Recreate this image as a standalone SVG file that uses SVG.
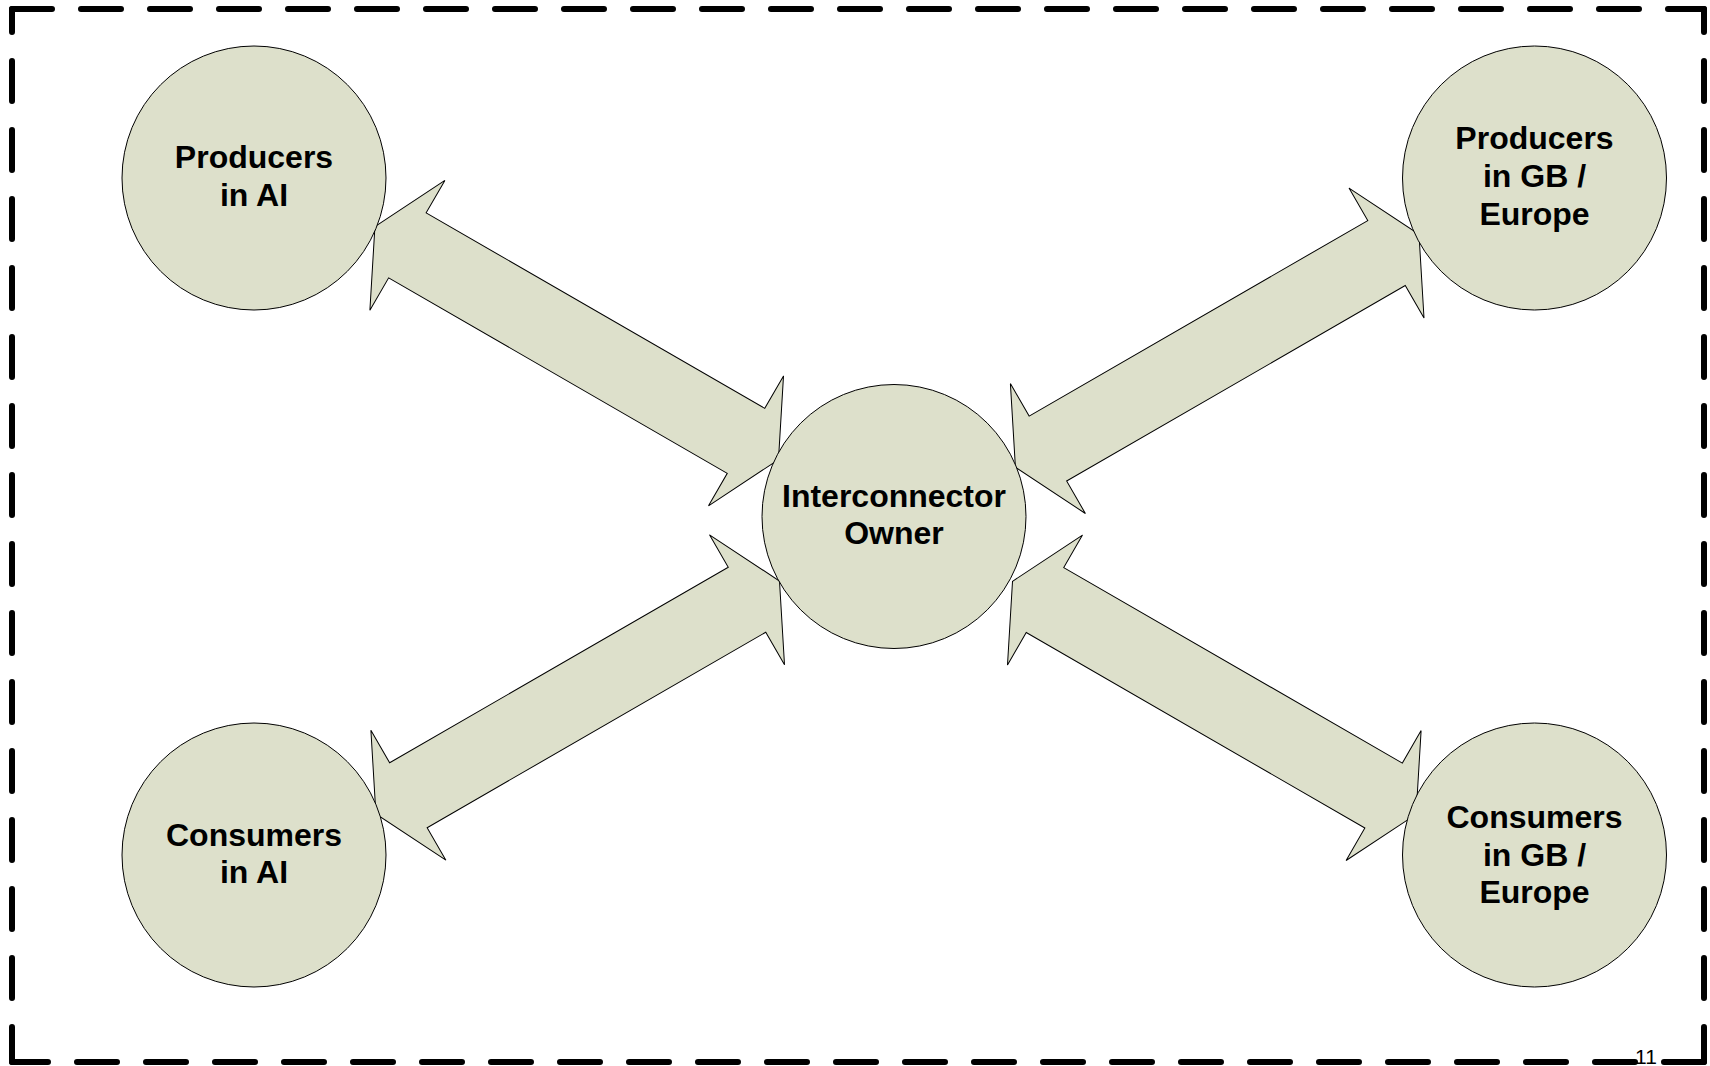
<svg xmlns="http://www.w3.org/2000/svg" xmlns:xlink="http://www.w3.org/1999/xlink" width="1710" height="1066" viewBox="0 0 1710 1066">
<style>
.node { fill: #dde0cb; stroke: #000; stroke-width: 1; }
.arrow { fill: #dde0cb; stroke: #000; stroke-width: 1; stroke-linejoin: miter; }
.lbl { font-family: "Liberation Sans", Arial, sans-serif; font-weight: bold; font-size: 32px; text-anchor: middle; fill: #000; }
.border { fill: none; stroke: #000; stroke-width: 6; stroke-linecap: round; stroke-dasharray: 40 29; }
.pg { font-family: "Liberation Sans", Arial, sans-serif; font-size: 21px; text-anchor: middle; fill: #000; }
</style>
<defs>
<polygon id="dblarrow" points="-233,0 -195.5,-75 -195.5,-37.5 195.5,-37.5 195.5,-75 233,0 195.5,75 195.5,37.5 -195.5,37.5 -195.5,75"/>
</defs>
<rect x="0" y="0" width="1710" height="1066" fill="#fff"/>
<g id="frame">
<line class="border" x1="12" y1="9" x2="1704" y2="9"/>
<line class="border" x1="12" y1="9" x2="12" y2="1062" stroke-dashoffset="17"/>
<line class="border" x1="1704" y1="9" x2="1704" y2="1062" stroke-dashoffset="17"/>
<line class="border" x1="1704" y1="1062" x2="12" y2="1062"/>
</g>
<g id="connectors">
<use xlink:href="#dblarrow" href="#dblarrow" class="arrow" transform="translate(576.7,343.1) rotate(30)"/>
<use xlink:href="#dblarrow" href="#dblarrow" class="arrow" transform="translate(1217.2,350.8) rotate(-30)"/>
<use xlink:href="#dblarrow" href="#dblarrow" class="arrow" transform="translate(577.7,697.5) rotate(-30)"/>
<use xlink:href="#dblarrow" href="#dblarrow" class="arrow" transform="translate(1214.3,697.8) rotate(30)"/>
</g>
<g id="producers-ai">
<circle class="node" cx="254" cy="178" r="132"/>
<text class="lbl" x="254" y="168">Producers</text>
<text class="lbl" x="254" y="206">in AI</text>
</g>
<g id="producers-gb">
<circle class="node" cx="1534.5" cy="178" r="132"/>
<text class="lbl" x="1534.5" y="149">Producers</text>
<text class="lbl" x="1534.5" y="187">in GB /</text>
<text class="lbl" x="1534.5" y="225">Europe</text>
</g>
<g id="interconnector-owner">
<circle class="node" cx="894" cy="516.5" r="132"/>
<text class="lbl" x="894" y="507">Interconnector</text>
<text class="lbl" x="894" y="544">Owner</text>
</g>
<g id="consumers-ai">
<circle class="node" cx="254" cy="855" r="132"/>
<text class="lbl" x="254" y="846">Consumers</text>
<text class="lbl" x="254" y="883">in AI</text>
</g>
<g id="consumers-gb">
<circle class="node" cx="1534.5" cy="855" r="132"/>
<text class="lbl" x="1534.5" y="828">Consumers</text>
<text class="lbl" x="1534.5" y="866">in GB /</text>
<text class="lbl" x="1534.5" y="903">Europe</text>
</g>
<text class="pg" x="1646" y="1064">11</text>
</svg>
